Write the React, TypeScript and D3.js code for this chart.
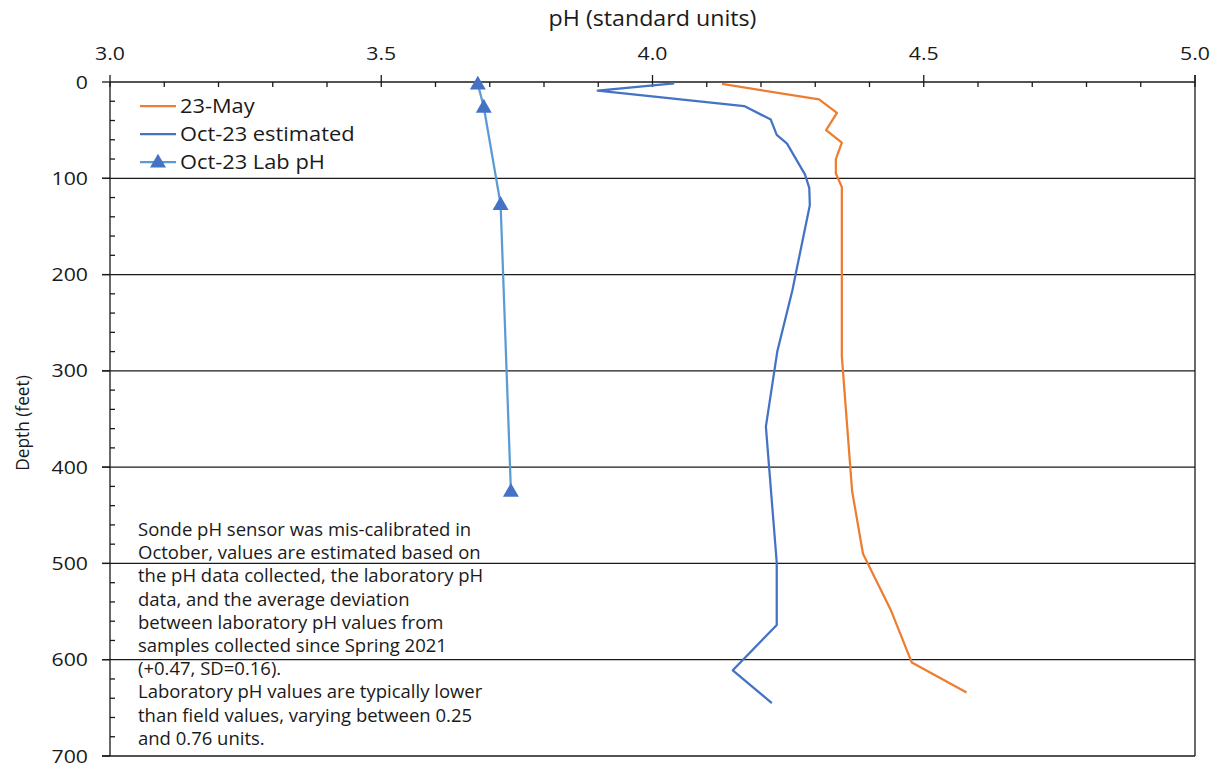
import React from "react";
import * as d3 from "d3";

const mayPH = [4.128, 4.307, 4.340, 4.320, 4.349, 4.338, 4.338, 4.349, 4.349, 4.368, 4.388, 4.439, 4.478, 4.579];
const mayDepth = [2, 18, 32, 50, 63, 80, 95, 109, 285, 425, 490, 548, 603, 634];

const octPH = [4.040, 3.899, 4.169, 4.218, 4.229, 4.248, 4.281, 4.289, 4.290, 4.263, 4.258, 4.230, 4.209, 4.229, 4.229, 4.148, 4.220];
const octDepth = [1.5, 9, 25, 39, 55, 64, 96, 110, 128, 202, 216, 280, 358, 499, 564, 611, 645];

const labPH = [3.678, 3.689, 3.720, 3.739];
const labDepth = [2, 26, 127, 425];

const xTicks = [3.0, 3.5, 4.0, 4.5, 5.0];
const yTicks = [0, 100, 200, 300, 400, 500, 600, 700];

const legendLabels = ["23-May", "Oct-23 estimated", "Oct-23 Lab pH"];

const noteLines = [
  "Sonde pH sensor was mis-calibrated in",
  "October, values are estimated based on",
  "the pH data collected, the laboratory pH",
  "data, and the average deviation",
  "between laboratory pH values from",
  "samples collected since Spring 2021",
  "(+0.47, SD=0.16).",
  "Laboratory pH values are typically lower",
  "than field values, varying between 0.25",
  "and 0.76 units.",
];

const ORANGE = "#ED7D31";
const BLUE = "#4472C4";
const LIGHTBLUE = "#5B9BD5";
const INK = "#1a1a1a";
const FONT = "'Open Sans', 'DejaVu Sans', sans-serif";

function SText(props: { x: number; y: number; sx: number; size: number; anchor?: string; children: React.ReactNode }) {
  const { x, y, sx, size, anchor, children } = props;
  return (
    <text transform={`translate(${x},${y}) scale(${sx},1)`} textAnchor={anchor || "start"} fontSize={size} fill={INK}>
      {children}
    </text>
  );
}

export default function App() {
  const W = 1220, H = 765;
  const left = 110, right = 1195, top = 82, bottom = 756;
  const x = d3.scaleLinear().domain([3, 5]).range([left, right]);
  const y = d3.scaleLinear().domain([0, 700]).range([top, bottom]);

  const line = d3.line<[number, number]>().x(d => x(d[0])).y(d => y(d[1]));
  const mayPts = mayPH.map((v, i) => [v, mayDepth[i]] as [number, number]);
  const octPts = octPH.map((v, i) => [v, octDepth[i]] as [number, number]);
  const labPts = labPH.map((v, i) => [v, labDepth[i]] as [number, number]);

  const xMinor = d3.range(3.1, 5.0, 0.1).filter(v => Math.abs(v * 2 - Math.round(v * 2)) > 0.01);
  const yMinor = d3.range(20, 700, 20).filter(v => v % 100 !== 0);

  const tri = d3.symbol().type(d3.symbolTriangle).size(110)();

  return (
    <svg width={W} height={H} style={{ position: "absolute", left: 0, top: 0, background: "#fff" }} fontFamily={FONT}>
      <rect width={W} height={H} fill="#fff" />
      {/* gridlines */}
      {yTicks.filter(t => t > 0).map(t => (
        <line key={"g" + t} x1={left - 8} x2={right} y1={y(t)} y2={y(t)} stroke={INK} strokeWidth={1.3} />
      ))}
      {/* top axis */}
      <line x1={left} x2={right} y1={top} y2={top} stroke={INK} strokeWidth={1.3} />
      {xTicks.map(t => (
        <line key={"xt" + t} x1={x(t)} x2={x(t)} y1={top - 7} y2={top + 5} stroke={INK} strokeWidth={1.3} />
      ))}
      {xMinor.map(t => (
        <line key={"xm" + t} x1={x(t)} x2={x(t)} y1={top} y2={top + 5} stroke={INK} strokeWidth={1.3} />
      ))}
      {/* left axis and right border */}
      <line x1={left} x2={left} y1={top} y2={bottom} stroke={INK} strokeWidth={1.3} />
      <line x1={right} x2={right} y1={top - 7} y2={bottom} stroke={INK} strokeWidth={1.3} />
      {yTicks.map(t => (
        <line key={"yt" + t} x1={left - 8} x2={left} y1={y(t)} y2={y(t)} stroke={INK} strokeWidth={1.3} />
      ))}
      {yMinor.map(t => (
        <line key={"ym" + t} x1={left} x2={left + 5} y1={y(t)} y2={y(t)} stroke={INK} strokeWidth={1.3} />
      ))}
      {/* tick labels */}
      {xTicks.map(t => (
        <SText key={"xl" + t} x={x(t)} y={60} sx={1.15} size={18.5} anchor="middle">{t.toFixed(1)}</SText>
      ))}
      {yTicks.map(t => (
        <SText key={"yl" + t} x={88} y={y(t) + 6.5} sx={1.15} size={18.5} anchor="end">{t}</SText>
      ))}
      <SText x={(left + right) / 2} y={26} sx={1.08} size={21.5} anchor="middle">pH (standard units)</SText>
      <text transform={`translate(29,${423}) rotate(-90)`} textAnchor="middle" fontSize={17.3} fill={INK}>Depth (feet)</text>

      {/* series */}
      <path d={line(mayPts) || ""} fill="none" stroke={ORANGE} strokeWidth={2.25} strokeLinejoin="round" />
      <path d={line(octPts) || ""} fill="none" stroke={BLUE} strokeWidth={2.25} strokeLinejoin="round" />
      <path d={line(labPts) || ""} fill="none" stroke={LIGHTBLUE} strokeWidth={2.25} strokeLinejoin="round" />
      {labPts.map((p, i) => (
        <path key={"m" + i} d={tri || ""} transform={`translate(${x(p[0])},${y(p[1]) + 1})`} fill={BLUE} />
      ))}

      {/* legend */}
      {legendLabels.map((lab, i) => {
        const ly = 106 + i * 28;
        const col = i === 0 ? ORANGE : i === 1 ? BLUE : LIGHTBLUE;
        return (
          <g key={"lg" + i}>
            <line x1={140} x2={176} y1={ly} y2={ly} stroke={col} strokeWidth={2.25} />
            {i === 2 && <path d={tri || ""} transform={`translate(158,${ly + 1})`} fill={BLUE} />}
            <SText x={180} y={ly + 7} sx={1.12} size={19.5}>{lab}</SText>
          </g>
        );
      })}

      {/* note */}
      {noteLines.map((s, i) => (
        <SText key={"n" + i} x={138} y={536 + i * 23.2} sx={1.04} size={17.8}>{s}</SText>
      ))}
    </svg>
  );
}
